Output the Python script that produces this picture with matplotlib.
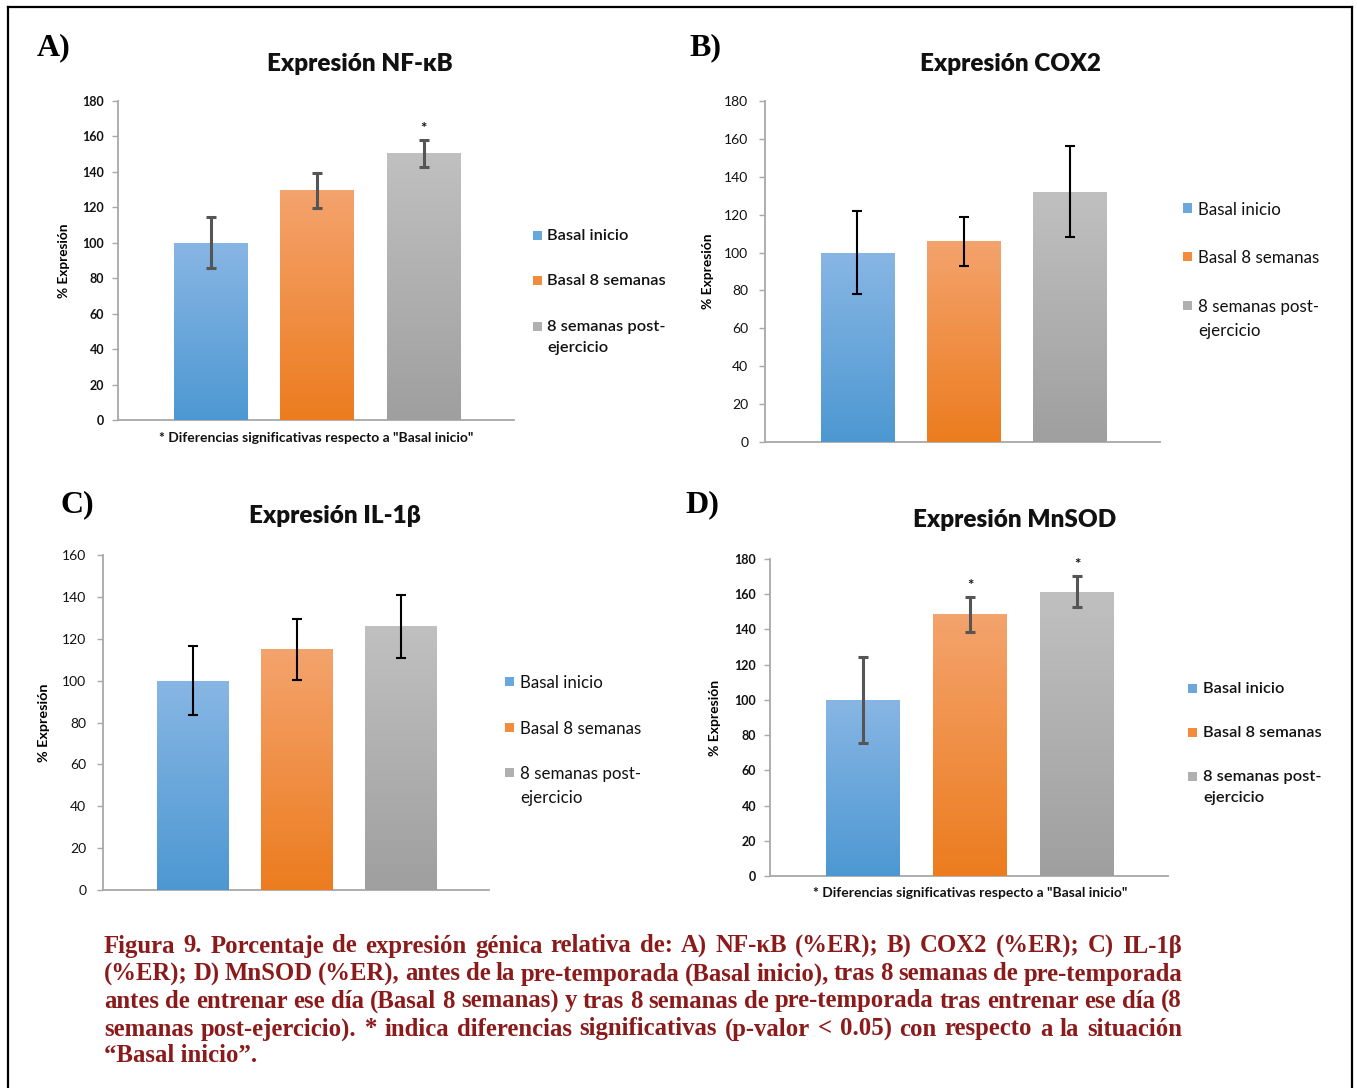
import numpy as np
import matplotlib
matplotlib.use("Agg")
import matplotlib.pyplot as plt
from matplotlib.patches import Rectangle
from matplotlib.lines import Line2D

W, H = 1357, 1088
DPI = 100

# ---------------- data ----------------
categories = ["Basal inicio", "Basal 8 semanas", "8 semanas post-\nejercicio"]
nfkb_mean = [100, 129.5, 150.5]
nfkb_err = [14.5, 10, 7.5]
nfkb_sig = [False, False, True]
cox2_mean = [100, 106, 132]
cox2_err = [22, 13, 24]
il1b_mean = [100, 115, 126]
il1b_err = [16.5, 14.5, 15]
mnsod_mean = [100, 148.5, 161.5]
mnsod_err = [24.5, 10, 9]
mnsod_sig = [False, True, True]

titles = ["Expresión NF-κB", "Expresión COX2", "Expresión IL-1β", "Expresión MnSOD"]
panel_letters = ["A)", "B)", "C)", "D)"]
ylabel = "% Expresión"
footnote = '* Diferencias significativas respecto a "Basal inicio"'
caption_lines = [
    "Figura 9. Porcentaje de expresión génica relativa de: A) NF-κB (%ER); B) COX2 (%ER); C) IL-1β",
    "(%ER); D) MnSOD (%ER), antes de la pre-temporada (Basal inicio), tras 8 semanas de pre-temporada",
    "antes de entrenar ese día (Basal 8 semanas) y tras 8 semanas de pre-temporada tras entrenar ese día (8",
    "semanas post-ejercicio). * indica diferencias significativas (p-valor < 0.05) con respecto a la situación",
    "“Basal inicio”.",
]

colors_top = ["#88b6e4", "#f4a36d", "#c0c0c0"]
colors_bot = ["#4d98d2", "#ec7c1f", "#9f9f9f"]
colors_mid = ["#6aa8dc", "#f28c3c", "#b0b0b0"]

SANS = ["Lato", "DejaVu Sans"]
SERIF = ["Liberation Serif", "DejaVu Serif"]

fig = plt.figure(figsize=(W / DPI, H / DPI), dpi=DPI)
fig.patch.set_facecolor("white")


def rect(x0, x1, ytop, ybot):
    return [x0 / W, 1 - ybot / H, (x1 - x0) / W, (ybot - ytop) / H]


def fx(x):
    return x / W


def fy(y):
    return 1 - y / H


def hex2rgb(h):
    h = h.lstrip("#")
    return np.array([int(h[i:i + 2], 16) / 255 for i in (0, 2, 4)])


def draw_panel(spec):
    ax = fig.add_axes(rect(*spec["box"]))
    means, errs, ymax = spec["mean"], spec["err"], spec["ymax"]
    x = np.arange(len(categories))
    bars = ax.bar(x, means, width=0.69, color=colors_mid, zorder=2, linewidth=0)
    xlim = (-0.87, 2.85)
    # gradient fill
    for b, ct, cb in zip(bars, colors_top, colors_bot):
        bx, bw, bh = b.get_x(), b.get_width(), b.get_height()
        t = np.linspace(0, 1, 128)[:, None]
        grad = (1 - t) * hex2rgb(ct)[None, :] + t * hex2rgb(cb)[None, :]
        grad = grad[:, None, :]
        im = ax.imshow(grad, extent=[bx, bx + bw, 0, bh], origin="upper",
                       aspect="auto", zorder=3, interpolation="bilinear")
        im.set_clip_path(b)
    ax.set_xlim(*xlim)
    ax.set_ylim(0, ymax)
    ax.set_aspect("auto")
    ax.errorbar(x, means, yerr=errs, fmt="none", ecolor=spec["ecolor"],
                elinewidth=spec["elw"], capsize=3.6, capthick=spec["elw"], zorder=4)
    if spec.get("sig") is not None:
        for xi, m, e, s in zip(x, means, errs, spec["sig"]):
            if s:
                ax.annotate("*", (xi, m + e), xytext=(0, 3), textcoords="offset points",
                            ha="center", va="bottom", fontsize=11, fontweight="bold",
                            family=SANS, color="#111111")
    for s in ["top", "right"]:
        ax.spines[s].set_visible(False)
    for s in ["left", "bottom"]:
        ax.spines[s].set_color("#a8a8a8")
        ax.spines[s].set_linewidth(1.3)
    ax.set_xticks([])
    ax.set_yticks(np.arange(0, ymax + 1, 20))
    ax.tick_params(axis="y", direction="out", length=4, color="#a8a8a8", width=1,
                   pad=spec["tpad"], labelsize=spec["tsize"])
    for lab in ax.get_yticklabels():
        lab.set_family(SANS)
        lab.set_fontweight(spec["tweight"])
        lab.set_color("#111111")
    ax.set_ylabel(ylabel, fontsize=spec["ylsize"], fontweight="bold", family=SANS)
    x0, x1, yt, yb = spec["box"]
    ax.yaxis.set_label_coords((spec["ylx"] - x0) / (x1 - x0), 0.5)
    ax.set_facecolor("none")
    # title
    fig.text(fx(spec["title_xy"][0]), fy(spec["title_xy"][1]), spec["title"],
             ha="center", va="center", fontsize=spec["title_size"], fontweight="heavy",
             family=SANS, color="#111111")
    # letter
    fig.text(fx(spec["letter_xy"][0]), fy(spec["letter_xy"][1]), spec["letter"],
             ha="left", va="center", fontsize=23, fontweight="bold", family=SERIF)
    # legend (square markers + labels)
    sqx, txx = spec["leg_x"]
    for lab, c, ry in zip(categories, colors_mid, spec["leg_y"]):
        fig.patches.append(Rectangle((fx(sqx), fy(ry) - 4.5 / H), 9 / W, 9 / H,
                                     transform=fig.transFigure, facecolor=c,
                                     edgecolor="none", figure=fig))
        fig.text(fx(txx), fy(ry) + 6 / H, lab, ha="left", va="top",
                 fontsize=spec["leg_size"], fontweight=spec["leg_weight"],
                 family=SANS, color="#111111", linespacing=1.6)
    if spec.get("foot"):
        fig.text(fx(spec["foot_xy"][0]), fy(spec["foot_xy"][1]), footnote,
                 ha="center", va="center", fontsize=10, fontweight="bold",
                 family=SANS, color="#111111")
    return ax


panels = [
    dict(box=(118, 514, 101, 420), mean=nfkb_mean, err=nfkb_err, ymax=180, sig=nfkb_sig,
         ecolor="#555555", elw=2.2, tsize=9, tweight="bold", tpad=6, ylsize=9.8, ylx=70,
         title=titles[0], title_xy=(360, 64), title_size=17.5, letter=panel_letters[0],
         letter_xy=(37, 48), leg_x=(533, 547), leg_y=(235, 280, 326), leg_size=11.8,
         leg_weight="semibold", foot=True, foot_xy=(316, 438)),
    dict(box=(765, 1160, 101, 442), mean=cox2_mean, err=cox2_err, ymax=180, sig=None,
         ecolor="#000000", elw=1.5, tsize=10, tweight="normal", tpad=8, ylsize=9.9, ylx=714,
         title=titles[1], title_xy=(1010, 64), title_size=17.5, letter=panel_letters[1],
         letter_xy=(689, 48), leg_x=(1183, 1198), leg_y=(208, 256, 305), leg_size=12.2,
         leg_weight="normal", foot=False),
    dict(box=(103, 489, 555, 890), mean=il1b_mean, err=il1b_err, ymax=160, sig=None,
         ecolor="#000000", elw=1.5, tsize=10, tweight="normal", tpad=8, ylsize=10.4, ylx=50,
         title=titles[2], title_xy=(335, 516), title_size=17.5, letter=panel_letters[2],
         letter_xy=(60, 505), leg_x=(505, 520), leg_y=(681, 727, 772), leg_size=12.2,
         leg_weight="normal", foot=False),
    dict(box=(770, 1168, 559, 876), mean=mnsod_mean, err=mnsod_err, ymax=180, sig=mnsod_sig,
         ecolor="#555555", elw=2.2, tsize=9, tweight="bold", tpad=6, ylsize=10, ylx=721,
         title=titles[3], title_xy=(1015, 520), title_size=17.5, letter=panel_letters[3],
         letter_xy=(685, 505), leg_x=(1188, 1203), leg_y=(688, 732, 776), leg_size=11.8,
         leg_weight="semibold", foot=True, foot_xy=(970, 893)),
]

for p in panels:
    draw_panel(p)

# ---------------- caption (justified) ----------------
cap_color = "#8B1A1A"
cap_x0, cap_x1 = 104, 1182
cap_y = [946, 974, 1001, 1029, 1056]
renderer = fig.canvas.get_renderer()
cap_size = 18.0


def word_width(w, size):
    t = fig.text(0, 0, w, fontsize=size, fontweight="bold", family=SERIF)
    bb = t.get_window_extent(renderer=renderer)
    t.remove()
    return bb.width


# largest font size for which every justified line keeps a minimal gap
for _ in range(60):
    ok = True
    for line in caption_lines[:-1]:
        words = line.split(" ")
        tot = sum(word_width(w, cap_size) for w in words)
        if tot + 5.0 * (len(words) - 1) > (cap_x1 - cap_x0):
            ok = False
    if ok:
        break
    cap_size -= 0.1

for i, (line, yy) in enumerate(zip(caption_lines, cap_y)):
    if i == len(caption_lines) - 1:
        fig.text(fx(cap_x0), fy(yy), line, fontsize=cap_size, fontweight="bold",
                 family=SERIF, color=cap_color, ha="left", va="center")
        continue
    words = line.split(" ")
    widths = [word_width(w, cap_size) for w in words]
    gap = ((cap_x1 - cap_x0) - sum(widths)) / (len(words) - 1)
    xcur = cap_x0
    for w, wd in zip(words, widths):
        fig.text(fx(xcur), fy(yy), w, fontsize=cap_size, fontweight="bold",
                 family=SERIF, color=cap_color, ha="left", va="center")
        xcur += wd + gap

# ---------------- outer frame ----------------
frame_kw = dict(color="black", linewidth=1.6, transform=fig.transFigure)
fig.add_artist(Line2D([fx(8), fx(8)], [fy(7), 0], **frame_kw))
fig.add_artist(Line2D([fx(8), fx(1352)], [fy(7), fy(7)], **frame_kw))
fig.add_artist(Line2D([fx(1352), fx(1352)], [fy(7), 0], **frame_kw))

fig.savefig("out.png", dpi=DPI)
